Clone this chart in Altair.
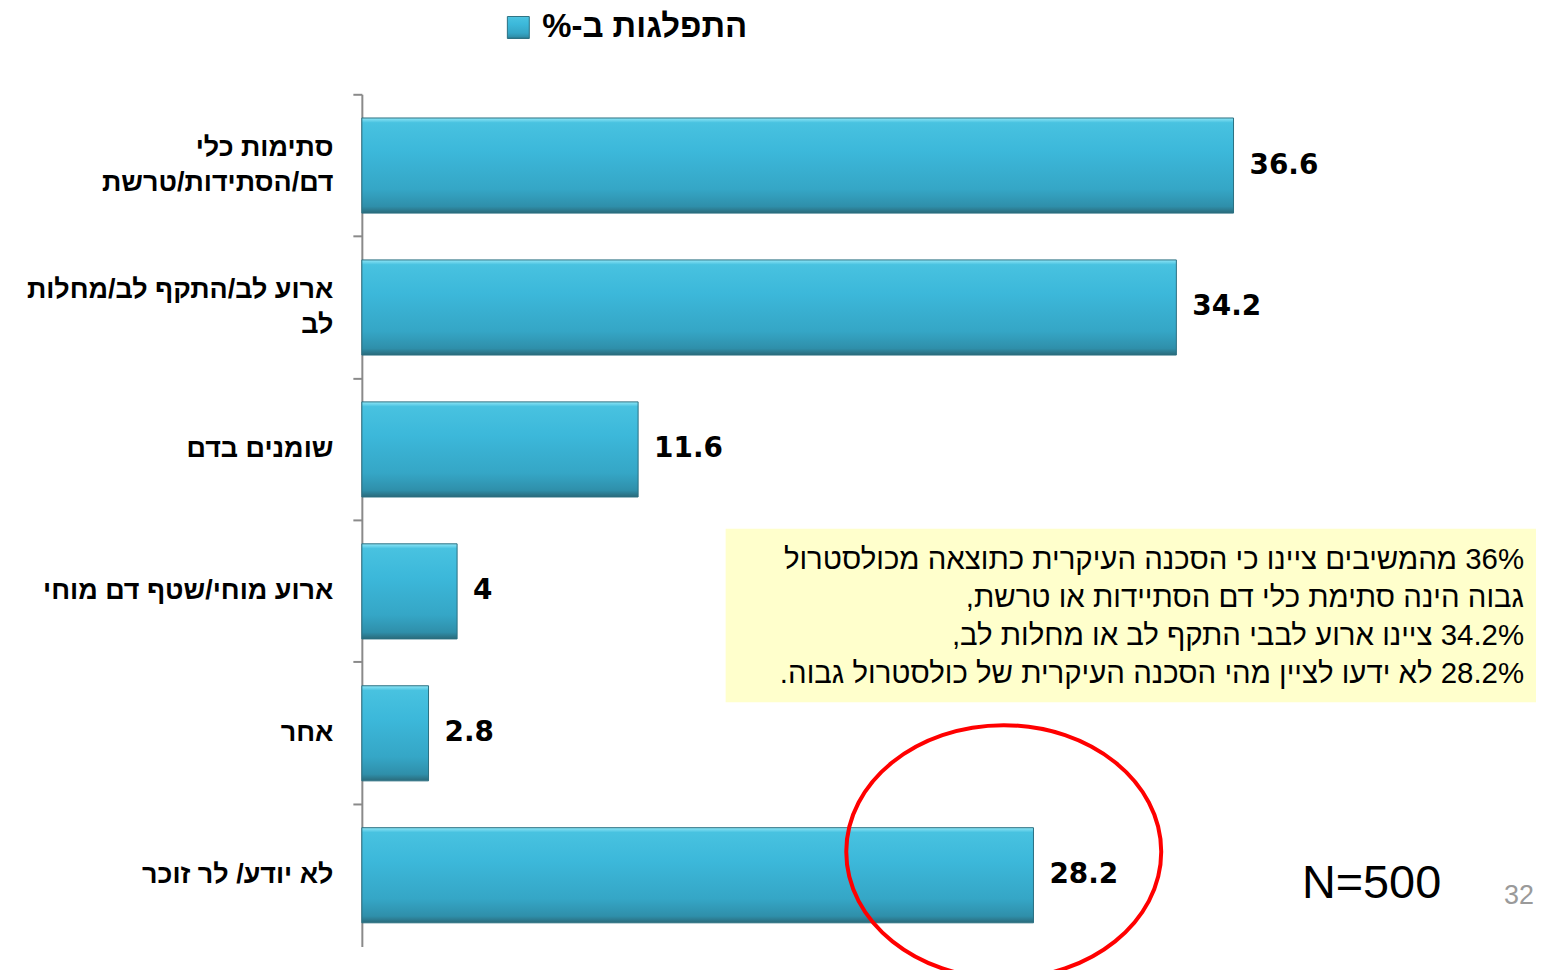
import altair as alt
import pandas as pd

RLM = "\u200f"

categories = [
    "סתימות כלי|דם/הסתידות/טרשת",
    "ארוע לב/התקף לב/מחלות|לב",
    "שומנים בדם",
    "ארוע מוחי/שטף דם מוחי",
    "אחר",
    "לא יודע/ לר זוכר",
]
values = [36.6, 34.2, 11.6, 4, 2.8, 28.2]
value_labels = ["36.6", "34.2", "11.6", "4", "2.8", "28.2"]

legend_label = "התפלגות ב-%"
note_lines = [
    "36% מהמשיבים ציינו כי הסכנה העיקרית כתוצאה מכולסטרול",
    "גבוה הינה סתימת כלי דם הסתיידות או טרשת,",
    "34.2% ציינו ארוע לבבי התקף לב או מחלות לב,",
    "28.2% לא ידעו לציין מהי הסכנה העיקרית של  כולסטרול גבוה.",
]
n_text = "N=500"
page_no = "32"

df = pd.DataFrame({"cat": categories, "value": values, "label": value_labels})

W, H = 1178, 855
x_scale = alt.Scale(domain=[0, 49.3], nice=False, zero=True)
y_scale = alt.Scale(domain=categories, paddingInner=0.33, paddingOuter=0.167)

bar_grad = alt.Gradient(
    gradient="linear",
    x1=0, y1=0, x2=0, y2=1,
    stops=[
        alt.GradientStop(color="#8fe6f7", offset=0.0),
        alt.GradientStop(color="#48c2e0", offset=0.05),
        alt.GradientStop(color="#3cb8da", offset=0.35),
        alt.GradientStop(color="#35a6c6", offset=0.75),
        alt.GradientStop(color="#2f8faa", offset=0.93),
        alt.GradientStop(color="#2a6a7a", offset=1.0),
    ],
)

LABEL_FONT = "Liberation Sans, DejaVu Sans, Arial"

base = alt.Chart(df)

bars = base.mark_bar(fill=bar_grad, stroke="#2a6f82", strokeWidth=1).encode(
    x=alt.X("value:Q", scale=x_scale, axis=None),
    y=alt.Y(
        "cat:N",
        scale=y_scale,
        sort=categories,
        axis=alt.Axis(
            title=None,
            labelExpr="split(datum.label, '|')",
            labelAlign="right",
            labelBaseline="middle",
            labelFont=LABEL_FONT,
            labelFontSize=27,
            labelFontWeight="bold",
            labelColor="#000000",
            labelLineHeight=36,
            labelPadding=20,
            labelLimit=400,
            labelOffset={"condition": {"test": "indexof(datum.value, '|') >= 0", "value": -18}, "value": 0},
            domainColor="#8a8a8a",
            domainWidth=2,
            tickColor="#8a8a8a",
            tickWidth=2,
            tickSize=9,
            bandPosition=-0.2465,
            grid=False,
        ),
    ),
)

texts = base.mark_text(
    align="left", baseline="middle", dx=16, font="DejaVu Sans",
    fontSize=28, fontWeight="bold", color="#000000",
).encode(
    x=alt.X("value:Q", scale=x_scale, axis=None),
    y=alt.Y("cat:N", scale=y_scale, sort=categories),
    text="label:N",
)

one = alt.Chart(pd.DataFrame({"a": [0]}))

legend_sq = one.mark_square(size=484, fill=bar_grad, stroke="#2a6f82", strokeWidth=1, opacity=1).encode(
    x=alt.value(157), y=alt.value(-67)
)
legend_txt = one.mark_text(
    align="left", baseline="middle", font=LABEL_FONT, fontSize=33,
    fontWeight="bold", color="#000000", text=legend_label + RLM,
).encode(x=alt.value(181), y=alt.value(-67))

note_box = one.mark_rect(fill="#ffffcc").encode(
    x=alt.value(365), x2=alt.value(1182), y=alt.value(436), y2=alt.value(610)
)
note_txt = one.mark_text(
    align="right", baseline="top", font="Liberation Sans, Arial", fontSize=29.5,
    color="#000000", lineHeight=38.3,
    text=[RLM + l + RLM for l in note_lines],
).encode(x=alt.value(1166), y=alt.value(453))

n_mark = one.mark_text(
    align="center", baseline="middle", font="Liberation Sans, Arial",
    fontSize=47, color="#000000", text=n_text,
).encode(x=alt.value(1013), y=alt.value(792))

page_mark = one.mark_text(
    align="right", baseline="middle", font="Liberation Sans, Arial",
    fontSize=27, color="#9a9a9a", text=page_no,
).encode(x=alt.value(1176), y=alt.value(804))

RX, RY = 158, 127
ellipse_path = f"M -1 0 A 1 {RY/RX:.4f} 0 1 0 1 0 A 1 {RY/RX:.4f} 0 1 0 -1 0 Z"
ellipse = one.mark_point(
    shape=ellipse_path, size=(2 * RX) ** 2, filled=False, stroke="#ff0000",
    strokeWidth=4, opacity=1,
).encode(x=alt.value(644), y=alt.value(760))

chart = alt.layer(
    note_box, bars, texts, note_txt, n_mark, page_mark, ellipse, legend_sq, legend_txt
).properties(
    width=W, height=H,
    autosize=alt.AutoSizeParams(type="none"),
    padding={"left": 355, "top": 85, "right": 0, "bottom": 22},
).configure_view(stroke=None)

chart.save("out.html", embed_options={"renderer": "svg", "actions": False})
